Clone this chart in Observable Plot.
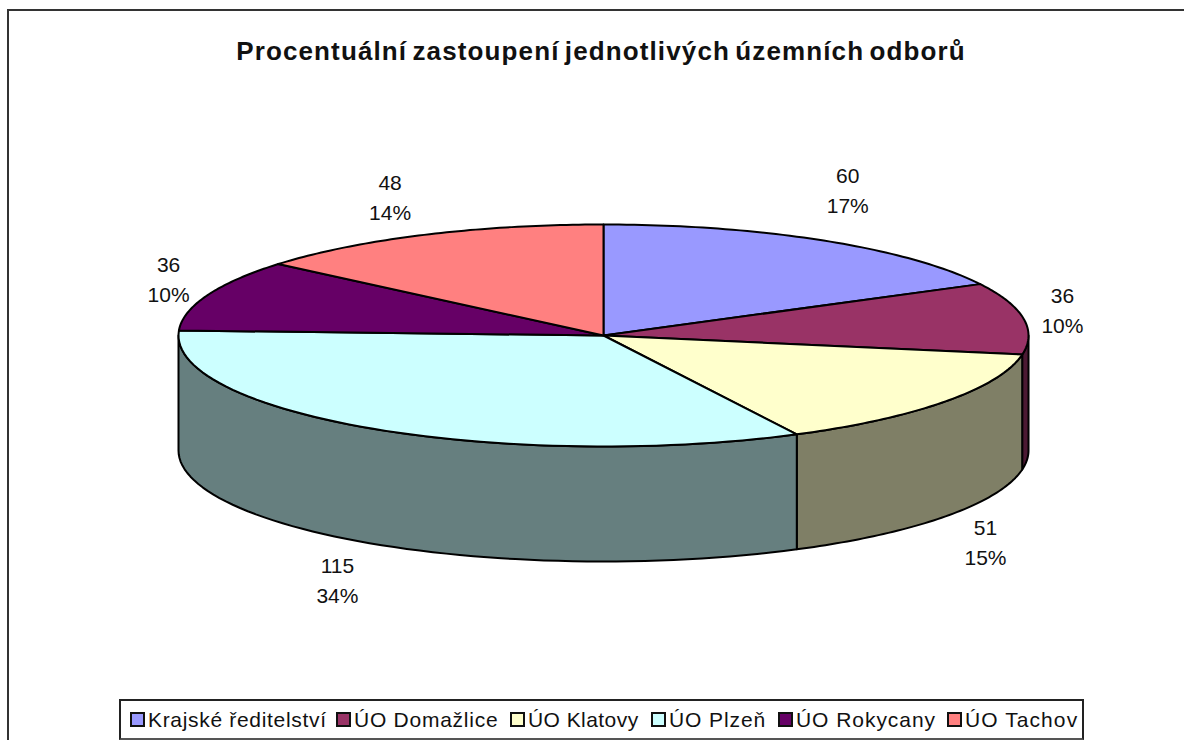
<!DOCTYPE html>
<html><head><meta charset="utf-8">
<script src="https://cdn.jsdelivr.net/npm/d3@7"></script>
<script src="https://cdn.jsdelivr.net/npm/@observablehq/plot@0.6"></script>
<style>
html,body{margin:0;padding:0;background:#fff;}
body{width:1184px;height:740px;overflow:hidden;position:relative;font-family:"Liberation Sans",Arial,sans-serif;color:#111;}
#frame{position:absolute;left:7px;top:9px;width:1300px;height:800px;border:2px solid #333;box-sizing:border-box;}
#title{position:absolute;left:0;top:34px;width:1202px;text-align:center;font-weight:bold;font-size:26px;letter-spacing:1.12px;word-spacing:-3px;line-height:34px;white-space:nowrap;}
#chart{position:absolute;left:0;top:70px;}
#legend{position:absolute;left:119px;top:699px;width:965px;height:41px;box-sizing:border-box;border:2px solid #222;border-bottom-color:#555;background:#fff;font-size:21px;white-space:nowrap;}
#legend .sw{position:absolute;top:11px;width:15px;height:15px;box-sizing:border-box;border:2px solid #111;}
#legend .tx{position:absolute;top:6px;line-height:26px;}
</style></head><body>
<div id="frame"></div>
<div id="title">Procentuální zastoupení jednotlivých územních odborů</div>
<div id="chart"></div>
<div id="legend"></div>
<script>
const categories = ["Krajské ředitelství","ÚO Domažlice","ÚO Klatovy","ÚO Plzeň","ÚO Rokycany","ÚO Tachov"];
const values = [60,36,51,115,36,48];
const percents = ["17%","10%","15%","34%","10%","14%"];
const topColors = ["#9999FF","#993366","#FFFFCC","#CCFFFF","#660066","#FF8080"];
const wallColors = ["#4C4C7F","#4C1933","#7F7F66","#667F7F","#330033","#7F4040"];

// Layout of the tilted pie and legend, in page pixels
const chartTop = 70, cx = 603, cy = 335, rx = 425, ry = 111, depthPx = 115;
const labelNudge = [[24,-52],[39,-10],[40,24],[-36,35],[-39,-18],[-34,-39]];
const legendLeft = [9,215,389,530,657,826];
const legendSpacing = [0.68,0.75,0.44,0.9,0.95,1.08];
const depth = depthPx / ry;

const total = d3.sum(values);
const ang = v => v / total * 2 * Math.PI;
let cum = 0;
const slices = values.map((v,i) => { const a0 = ang(cum); cum += v; return {i, a0, a1: ang(cum)}; });

const rim = (a, drop = 0) => ({x: Math.sin(a), y: Math.cos(a) - drop});
const steps = (a0, a1) => d3.range(0, 61).map(k => a0 + (a1 - a0) * k / 60);

const polys = [];
// side walls: only the front half of the rim shows
for (const s of slices) {
  const a0 = Math.max(s.a0, Math.PI / 2), a1 = Math.min(s.a1, 3 * Math.PI / 2);
  if (a1 <= a0) continue;
  const upper = steps(a0, a1).map(a => rim(a));
  const lower = steps(a1, a0).map(a => rim(a, depth));
  [...upper, ...lower].forEach(p => polys.push({...p, id: "w" + s.i, c: wallColors[s.i]}));
}
// top faces
for (const s of slices) {
  [{x: 0, y: 0}, ...steps(s.a0, s.a1).map(a => rim(a))]
    .forEach(p => polys.push({...p, id: "t" + s.i, c: topColors[s.i]}));
}

const labels = slices.map(s => {
  const m = (s.a0 + s.a1) / 2;
  const drop = Math.cos(m) < 0 ? depth : 0;
  const p = rim(m, drop);
  return {
    x: p.x + labelNudge[s.i][0] / rx,
    y: p.y - labelNudge[s.i][1] / ry,
    t: values[s.i] + "\n" + percents[s.i]
  };
});

const chart = Plot.plot({
  width: 1184, height: 620,
  margin: 0,
  x: {type: "linear", domain: [-1, 1], range: [cx - rx, cx + rx], axis: null},
  y: {type: "linear", domain: [1, -1], range: [cy - ry - chartTop, cy + ry - chartTop], axis: null},
  color: {type: "identity"},
  style: {background: "transparent", overflow: "visible"},
  marks: [
    Plot.line(polys, {x: "x", y: "y", z: "id", fill: "c", stroke: "#000", strokeWidth: 2, curve: "linear-closed"}),
    Plot.text(labels, {x: "x", y: "y", text: "t", fontSize: 21, lineHeight: 1.43, fill: "#111",
      fontFamily: "'Liberation Sans',Arial,sans-serif"})
  ]
});
document.getElementById("chart").append(chart);

const legend = document.getElementById("legend");
categories.forEach((c,i) => {
  const sw = document.createElement("span"); sw.className = "sw";
  sw.style.background = topColors[i]; sw.style.left = legendLeft[i] + "px";
  const tx = document.createElement("span"); tx.className = "tx"; tx.textContent = c;
  tx.style.left = (legendLeft[i] + 18) + "px"; tx.style.letterSpacing = legendSpacing[i] + "px";
  legend.append(sw, tx);
});
</script>
</body></html>
